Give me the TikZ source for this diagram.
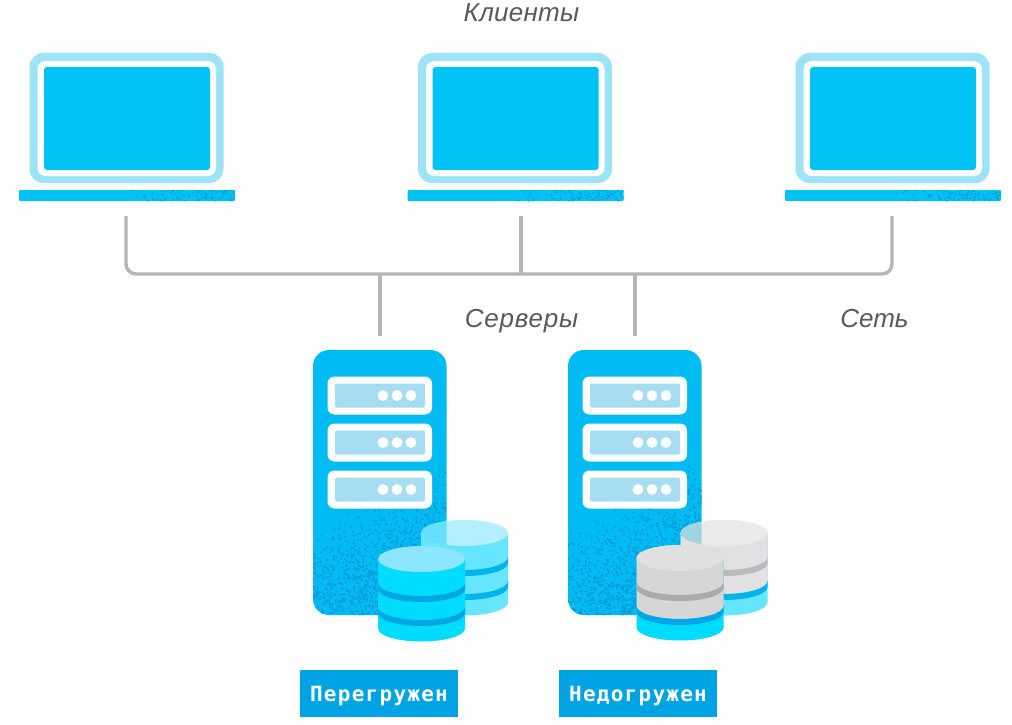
\documentclass[tikz,border=0pt]{standalone}
\usepackage{fontspec}
\setmainfont{Liberation Sans}
\newfontfamily\labelfont[LetterSpace=6]{DejaVu Sans Mono}
\definecolor{screenblue}{HTML}{00C2F5}
\definecolor{ringblue}{HTML}{9CE3F6}
\definecolor{serverblue}{HTML}{00BCF3}
\definecolor{speckblue}{HTML}{0A98D8}
\definecolor{slotblue}{HTML}{A6DDF3}
\definecolor{netgray}{HTML}{B5B5B5}
\definecolor{tagblue}{HTML}{00A3E4}
\definecolor{captiongray}{HTML}{5A5A5A}
\newcommand{\hexcolor}[1]{\definecolor{HTML#1}{HTML}{#1}}
\hexcolor{66E5FF}\hexcolor{B3EFFF}\hexcolor{66DFFF}\hexcolor{00B5EC}\hexcolor{00DCFF}\hexcolor{8DE6FF}\hexcolor{00A5E6}
\hexcolor{EBEBEB}\hexcolor{E1E1E1}\hexcolor{9ED5DF}\hexcolor{BBBBBB}\hexcolor{E0E0E0}\hexcolor{D6D6D6}\hexcolor{ABABAB}
\tikzset{
  net/.style={draw=netgray,line width=3.4pt,line cap=butt,rounded corners=10pt},
  caption/.style={font=\itshape\fontsize{26}{28}\selectfont,text=captiongray,inner sep=0pt,anchor=base},
  tag/.style={fill=tagblue,text=white,font=\labelfont\bfseries\fontsize{21}{26}\selectfont,minimum width=158pt,minimum height=47pt,inner sep=0pt,text height=20pt,text depth=4pt},
}
% laptop: x offset
\newcommand{\laptop}[1]{%
  \begin{scope}[xshift=#1pt]
    \fill[ringblue,rounded corners=14pt] (29.5,53) rectangle (223.5,183);
    \fill[white,rounded corners=8pt] (37.5,61) rectangle (216,176);
    \fill[screenblue,rounded corners=3pt] (44,67) rectangle (210,170);
    \fill[screenblue,rounded corners=1pt] (19,190) rectangle (235,201);
    \begin{scope}
      \clip (19,190) rectangle (235,201);
      \pgfmathsetseed{#1+7}
      \foreach \i in {1,...,170}{
        \pgfmathsetmacro{\px}{130+105*rnd}
        \pgfmathsetmacro{\py}{190+11*rnd}
        \pgfmathsetmacro{\pp}{(\px-130)/105+0.25}
        \pgfmathparse{rnd<\pp?1:0}
        \ifdim\pgfmathresult pt>0.5pt \fill[speckblue] (\px,\py) circle (0.8pt);\fi
      }
    \end{scope}
  \end{scope}}
% server tower: x offset
\newcommand{\slot}[1]{%
  \fill[white,rounded corners=7pt] (327.5,#1) rectangle (432,#1+38);
  \fill[slotblue,rounded corners=2pt] (335,#1+7) rectangle (425,#1+31);
  \foreach \dx in {383,397,411} \fill[white] (\dx,#1+19) circle (5.4pt);}
\newcommand{\server}[1]{%
  \begin{scope}[xshift=#1pt]
    \fill[serverblue,rounded corners=16pt] (313,350) rectangle (446.5,615);
    \begin{scope}
      \clip[rounded corners=16pt] (313,350) rectangle (446.5,615);
      \pgfmathsetseed{#1+11}
      \foreach \i in {1,...,2800}{
        \pgfmathsetmacro{\px}{313+133.5*rnd}
        \pgfmathsetmacro{\py}{465+150*rnd}
        \pgfmathsetmacro{\pp}{((\py-530)+(\px-313)*0.55)/90}
        \pgfmathparse{rnd<\pp?1:0}
        \ifdim\pgfmathresult pt>0.5pt \fill[speckblue] (\px,\py) circle (1.05pt);\fi
      }
    \end{scope}
    \slot{376.5}\slot{423.5}\slot{470.5}
  \end{scope}}
% cylinder: centre x, top-ellipse y, body colour, lid colour
\newcommand{\cyl}[4]{%
  \begin{scope}[shift={(#1,#2)},y=1pt,x=1pt]
    \fill[#3] (-43.5,0) -- (-43.5,-69.5) arc[start angle=180,end angle=360,x radius=43.5pt,y radius=13pt] -- (43.5,0) -- cycle;
    \fill[#4] (0,0) ellipse[x radius=43.5pt,y radius=13pt];
  \end{scope}}
% band across a cylinder: centre x, top-ellipse y, drop, colour, thickness
\newcommand{\band}[5]{%
  \begin{scope}[shift={(#1,#2)},y=1pt,x=1pt]
    \fill[#4] (-43.5,-#3) arc[start angle=180,end angle=360,x radius=43.5pt,y radius=13pt] -- ++(0,-#5) arc[start angle=360,end angle=180,x radius=43.5pt,y radius=13pt] -- cycle;
  \end{scope}}
% area of a cylinder's body from the lid down to a given drop
\newcommand{\capbody}[4]{%
  \begin{scope}[shift={(#1,#2)},y=1pt,x=1pt]
    \fill[#4] (-43.5,0) -- (-43.5,-#3) arc[start angle=180,end angle=360,x radius=43.5pt,y radius=13pt] -- (43.5,0) -- cycle;
  \end{scope}}
\begin{document}
\begin{tikzpicture}[x=1pt,y=-1pt]
\useasboundingbox (0,0) rectangle (1012,725);
\fill[white] (0,0) rectangle (1012,725);

\laptop{0}\laptop{388.5}\laptop{766}

% network
\coordinate (dropA) at (126,216);
\coordinate (dropB) at (521,216);
\coordinate (dropC) at (892,216);
\coordinate (busA) at (126,274);
\coordinate (busB) at (521,274);
\coordinate (busC) at (892,274);
\coordinate (busD) at (380,274);
\coordinate (busE) at (635,274);
\coordinate (srvA) at (380,336);
\coordinate (srvB) at (635,336);
\draw[net] (dropA) -- (busA) -- (busC) -- (dropC);
\draw[net] (dropB) -- (busB);
\draw[net] (busD) -- (srvA);
\draw[net] (busE) -- (srvB);

\server{0}\server{255}

% overloaded stack
\cyl{464.5}{533}{HTML66E5FF}{HTMLB3EFFF}
\begin{scope}
  \clip (400,510) rectangle (446.5,560);
  \fill[HTML66DFFF] (464.5,533) ellipse[x radius=43.5pt,y radius=13pt];
\end{scope}
\band{464.5}{533}{24}{HTML00B5EC}{6}
\band{464.5}{533}{48}{HTML00B5EC}{6}
\cyl{421.5}{559}{HTML00DCFF}{HTML8DE6FF}
\band{421.5}{559}{24}{HTML00A5E6}{6}
\band{421.5}{559}{48}{HTML00A5E6}{6}

% underloaded stack
\cyl{724}{533}{HTML66E5FF}{HTMLEBEBEB}
\capbody{724}{533}{48}{HTMLE1E1E1}
\fill[HTMLEBEBEB] (724,533) ellipse[x radius=43.5pt,y radius=13pt];
\begin{scope}
  \clip (660,510) rectangle (701.5,560);
  \fill[HTML9ED5DF] (724,533) ellipse[x radius=43.5pt,y radius=13pt];
\end{scope}
\band{724}{533}{24}{HTMLBBBBBB}{6}
\band{724}{533}{48}{HTML00B5EC}{6}
\cyl{680}{558}{HTML00DCFF}{HTMLE0E0E0}
\capbody{680}{558}{48}{HTMLD6D6D6}
\fill[HTMLE0E0E0] (680,558) ellipse[x radius=43.5pt,y radius=13pt];
\band{680}{558}{24}{HTMLABABAB}{6}
\band{680}{558}{48}{HTML00A5E6}{6}

% texts
\node[caption] (clients) at (521.5,21.5) {\addfontfeature{LetterSpace=1}Клиенты};
\node[caption] (servers) at (521.5,327) {\addfontfeature{LetterSpace=3}Серверы};
\node[caption] (network) at (874.5,327) {Сеть};
\node[tag] (over) at (379,693.5) {Перегружен};
\node[tag] (under) at (638,693.5) {Недогружен};
\end{tikzpicture}
\end{document}
